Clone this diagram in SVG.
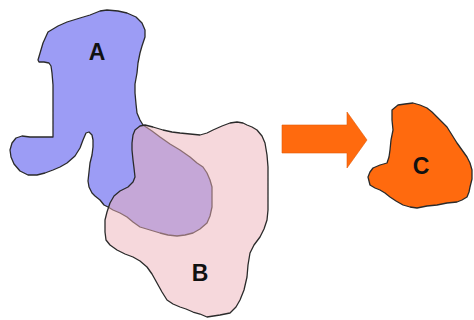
<svg xmlns="http://www.w3.org/2000/svg" width="474" height="320" viewBox="0 0 474 320">
<style>
.outline{stroke:#2a2a2a;stroke-width:1.3;stroke-linejoin:round}
.lbl{font-family:"Liberation Sans",Arial,sans-serif;font-weight:bold;font-size:23px;fill:#111;text-anchor:middle}
</style>
<rect width="474" height="320" fill="#fff"/>
<g id="nodeA">
<path class="outline" fill="#9c9cf5" d="M38,60 L43,43 L48,32 L58,26 L67,22 L80,18 L90,15 L100,11 L107,10 L118,11 L127,13 L136,17 L142,23 L145,30 L145,37 L142,46 L140,53 L138,63 L137,73 L135,84 L135,93 L136,104 L137,113 L140,120 L143,125 L152,131 L160,137 L170,144 L180,150 L190,157 L197,163 L203,167 L207,173 L210,180 L212,187 L212,197 L212,207 L210,216 L207,223 L200,229 L193,233 L185,235 L177,236 L168,235 L160,233 L150,230 L140,227 L133,222 L127,217 L120,213 L113,210 L108,207 L104,205 L100,200 L95,196 L92,193 L89,187 L88,181 L89,172 L90,163 L92,155 L93,147 L93,140 L92,135 L89,132 L86,133 L83,140 L80,148 L75,156 L67,163 L60,167 L53,170 L45,173 L37,175 L28,175 L20,171 L14,164 L11,157 L10,150 L12,143 L16,138 L22,136 L30,137 L42,137 L53,137 L53,120 L53,100 L53,85 L52,73 L51,66 L49,63 L44,62 L39,62 Z"/>
<text class="lbl" x="97" y="60">A</text>
</g>
<g id="nodeB">
<path class="outline" fill="rgb(238,178,186)" fill-opacity="0.5" d="M145,125 L153,127 L163,130 L172,132 L180,133 L190,134 L200,135 L207,133 L213,130 L222,126 L230,123 L237,122 L243,123 L247,125 L252,127 L257,130 L262,136 L265,143 L267,155 L268,167 L268,182 L268,197 L268,210 L267,220 L264,229 L260,237 L254,245 L250,253 L248,265 L247,277 L244,290 L240,300 L236,307 L230,313 L220,315 L207,317 L200,314 L193,312 L186,309 L180,307 L173,304 L167,300 L162,292 L157,283 L152,274 L147,267 L140,261 L133,257 L125,254 L117,250 L110,245 L106,240 L105,232 L105,220 L107,212 L110,203 L114,196 L120,191 L128,187 L133,182 L135,177 L134,168 L133,160 L132,150 L132,143 L133,135 L135,130 L140,126 Z"/>
<text class="lbl" x="200" y="281">B</text>
</g>
<g id="connectors">
<path id="arrow" fill="#ff6a0e" stroke="#e25a08" stroke-width="0.6" d="M282,125 L347,125 L347,112 L367,140 L347,168 L347,153 L282,153 Z"/>
</g>
<g id="nodeC">
<path class="outline" fill="#ff6a0e" d="M392,110 L398,105 L405,104 L413,103 L420,105 L427,108 L432,112 L437,117 L442,122 L447,127 L452,135 L457,143 L462,150 L467,157 L470,163 L472,170 L472,179 L470,187 L469,192 L467,197 L462,200 L457,202 L447,203 L437,205 L427,206 L417,208 L410,207 L403,205 L396,201 L390,197 L385,193 L380,190 L375,188 L370,185 L368,177 L370,172 L373,168 L380,165 L387,163 L389,157 L390,150 L391,140 L393,130 L392,120 Z"/>
<text class="lbl" x="421" y="174">C</text>
</g>
</svg>
